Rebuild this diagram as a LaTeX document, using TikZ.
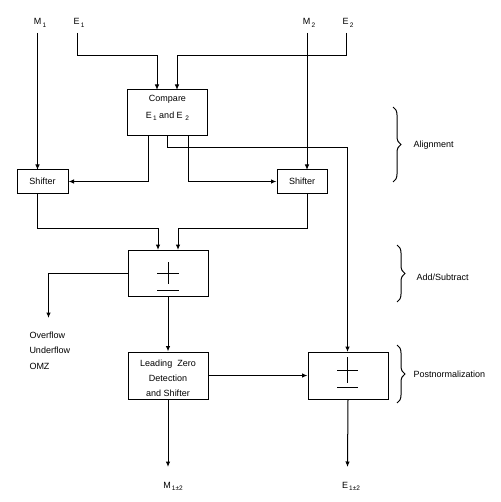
\documentclass[tikz,border=0pt]{standalone}
\usepackage{fontspec}
\setmainfont{Liberation Sans}
\usetikzlibrary{arrows.meta,decorations.pathreplacing}
\newcommand{\sbs}[1]{\kern1.2bp\raisebox{-2.2bp}{\fontsize{6.5bp}{7bp}\selectfont #1}}
\begin{document}
\begin{tikzpicture}[x=1bp,y=-1bp,
  line width=1bp,
  font=\fontsize{9bp}{11bp}\selectfont,
  box/.style={draw,rectangle,inner sep=0pt,align=center},
  arr/.style={-{Latex[length=5.5bp,width=4.5bp]}},
  lbl/.style={inner sep=0pt},
  brc/.style={decorate,decoration={brace,amplitude=8bp},line width=1bp},
  pm/.style={line width=0.9bp}]
\useasboundingbox (0,0) rectangle (501,502);
% labels for inputs
\node[lbl] (m1) at (40,23) {M\sbs{1}};
\node[lbl] (e1) at (79,23) {E\sbs{1}};
\node[lbl] (m2) at (309,23) {M\sbs{2}};
\node[lbl] (e2) at (348,23) {E\sbs{2}};
\coordinate (m1s) at (37.5,33);
\coordinate (e1s) at (77,33);
\coordinate (m2s) at (307,33);
\coordinate (e2s) at (346,33);
% boxes
\node[box,minimum width=80bp,minimum height=46bp] (cmp) at (167.5,113) {};
\node[lbl,align=center,font=\fontsize{9bp}{17bp}\selectfont] (cmpt) at (167.5,108) {Compare\\E\sbs{1} and E\,\sbs{2}};
\node[box,minimum width=51bp,minimum height=23bp] (sh1) at (42.5,181.5) {Shifter};
\node[box,minimum width=50bp,minimum height=23bp] (sh2) at (302,181.5) {Shifter};
\node[box,minimum width=80bp,minimum height=46bp] (add) at (168,273) {};
\node[box,minimum width=80bp,minimum height=47bp] (lzd) at (168,375.5) {};
\node[lbl,align=center,font=\fontsize{9bp}{15bp}\selectfont] (lzdt) at (168,378.5) {Leading\ \ Zero\\Detection\\and Shifter};
\node[box,minimum width=80bp,minimum height=47bp] (pn) at (348,375.5) {};
% plus-minus symbols
\draw[pm] (157,273) -- (179,273) (168,262) -- (168,284) (157,290) -- (179,290);
\draw[pm] (337,370) -- (358,370) (347.5,357) -- (347.5,383) (337,387) -- (358,387);
% outputs
\node[lbl,anchor=north west,align=left,font=\fontsize{9bp}{15.5bp}\selectfont] (ovf) at (29,331) {Overflow\\Underflow\\OMZ};
\node[lbl] (mout) at (173,486) {M\sbs{1±2}};
\node[lbl] (eout) at (351,486) {E\sbs{1±2}};
\coordinate (ovfa) at (48.5,318);
\coordinate (mend) at (168,467);
\coordinate (eend) at (347.5,467);
% connectors
\draw[arr] (e1s) |- (157,56) -- (157,90);
\draw[arr] (e2s) |- (177,56) -- (177,90);
\draw[arr] (m1s) -- (37.5,170);
\draw[arr] (m2s) -- (307,170);
\draw[arr] (148,136) |- (sh1.east);
\draw[arr] (188,136) |- (sh2.west);
\draw[arr] (167,136) |- (347.5,148) -- (347.5,352);
\draw[arr] (37.5,193) |- (158,228) -- (158,250);
\draw[arr] (307,193) |- (178,228) -- (178,250);
\draw[arr] (add.west) -| (ovfa);
\draw[arr] (add.south) -- (lzd.north);
\draw[arr] (lzd.east) -- (pn.west);
\draw[arr] (lzd.south) -- (mend);
\draw[arr] (pn.south) -- (eend);
% braces
\draw[brc] (393,107) -- (393,182);
\node[lbl,anchor=west] (al) at (413,145) {Alignment};
\draw[brc] (397,245) -- (397,302);
\node[lbl,anchor=west] (as) at (416,277) {Add/Subtract};
\draw[brc] (397,345) -- (397,403);
\node[lbl,anchor=west] (pnl) at (413,374) {Postnormalization};
\end{tikzpicture}
\end{document}
